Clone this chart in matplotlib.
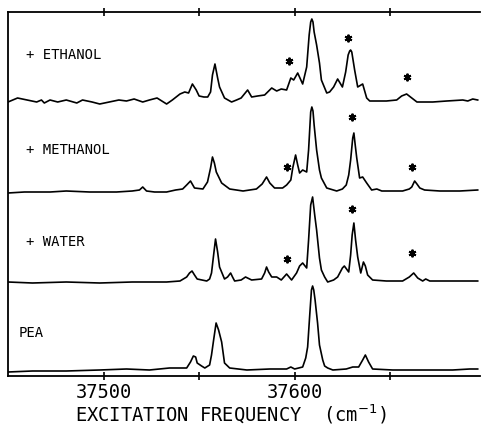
"""
Excitation spectra of PEA and its clusters with water, methanol, ethanol.
Traces digitised from the reference figure (intensity in arbitrary units).
"""

import matplotlib.pyplot as plt

plt.rcParams.update({
    "font.family": "DejaVu Sans Mono",
    "font.size": 10,
})

# ---------- data: frequency (cm-1) and intensity (arb. units) ----------
ethanol_freq = [37450, 37455, 37460, 37465, 37467.5, 37469, 37472, 37476, 37480.5, 37486,
                37489, 37494, 37498, 37503, 37508, 37512, 37516, 37520.5, 37524, 37528,
                37533, 37536, 37540, 37542.5, 37544.5, 37546.5, 37548.5, 37550, 37552.5, 37554.5,
                37556, 37557, 37558.3, 37559.7, 37560.7, 37563.3, 37567, 37569.6, 37572, 37575.4,
                37577.5, 37580.6, 37584.3, 37588, 37590.6, 37593, 37595.8, 37598, 37599.5, 37601.6,
                37604.2, 37606.3, 37607.6, 37608.4, 37609, 37609.6, 37610.2, 37611.5, 37613, 37614,
                37616.8, 37618.3, 37620.4, 37622.5, 37625, 37626.7, 37628, 37628.8, 37629.3, 37629.9,
                37630.4, 37631.4, 37633, 37635.6, 37637.7, 37639.3, 37648, 37653.4, 37656, 37658.6,
                37661.3, 37664, 37672.3, 37679.6, 37688, 37690.6, 37693.2, 37695.8]
ethanol_int = [-1, 3, 1, -1, 1, -2, 1, -1, 1, -2,
               1, -1, -3, -1, 1, 0, 2, -1, 1, 3,
               -3, 1, 7, 9, 8, 17, 11, 5, 4, 4,
               9, 26, 37, 23, 14, 3, -1, 1, 3, 11,
               4, 5, 6, 13, 10, 12, 11, 23, 21, 28,
               17, 34, 66, 79, 82, 79, 69, 56, 38, 21,
               8, 9, 14, 22, 14, 29, 46, 50, 51, 49,
               43, 31, 14, 17, 3, 0, 0, 1, 5, 7,
               3, -1, -1, 0, 1, 0, 2, 1]

methanol_freq = [37450, 37458.6, 37472, 37480.5, 37492.7, 37506.8, 37515, 37518.8, 37520.5, 37522.5,
                 37526.7, 37533, 37537.7, 37541.4, 37543.5, 37545.5, 37547.6, 37552, 37554.4, 37556,
                 37557, 37558, 37559, 37561.8, 37566, 37573, 37580, 37583, 37585.3, 37587,
                 37589.5, 37593.7, 37595.8, 37598, 37599, 37600.5, 37601.6, 37602.6, 37604.2, 37606.3,
                 37607.3, 37608.4, 37609, 37609.6, 37610.2, 37611.5, 37613, 37614, 37616.8, 37622,
                 37625, 37627, 37628.3, 37629.3, 37630.4, 37631, 37631.7, 37632.5, 37634, 37635.6,
                 37637.7, 37640.3, 37643, 37645.6, 37656.5, 37660, 37661.3, 37662.8, 37664, 37665.5,
                 37668, 37676, 37686.4, 37695.8]
methanol_int = [-1, 0, 0, 1, 0, 0, 1, 2, 5, 1,
                0, 0, 2, 3, 7, 11, 4, 3, 10, 24,
                35, 29, 20, 9, 3, 1, 3, 8, 15, 9,
                4, 4, 7, 12, 24, 37, 27, 19, 22, 20,
                42, 80, 85, 81, 67, 42, 22, 14, 4, 1,
                3, 7, 17, 32, 54, 59, 47, 34, 14, 15,
                9, 2, 3, 1, 1, 3, 5, 11, 8, 4,
                2, 1, 1, 2]

water_freq = [37450, 37462.8, 37480.5, 37498, 37515, 37533, 37540, 37543.5, 37545, 37546.3,
              37547.6, 37549, 37554, 37555.5, 37556.5, 37557.6, 37558.6, 37559.7, 37560.7, 37563.3,
              37564.9, 37566.5, 37567.5, 37568.6, 37572, 37574.3, 37577.5, 37582.7, 37584.3, 37585.3,
              37586.4, 37588, 37590.6, 37593, 37595.8, 37598.4, 37601, 37602.6, 37604.2, 37606.3,
              37607.3, 37608.4, 37609.4, 37610.5, 37611.5, 37613, 37614, 37615.7, 37617.3, 37620.4,
              37622.5, 37625, 37626, 37628.3, 37629.3, 37630.1, 37631, 37631.9, 37633, 37634.6,
              37636, 37637, 37638.2, 37640.8, 37648, 37656.5, 37660, 37662.3, 37664.4, 37667,
              37668.6, 37670.7, 37682.7, 37695.8]
water_int = [0, -1, 0, -1, 0, 0, 1, 5, 9, 11,
             7, 3, 1, 3, 9, 27, 43, 30, 15, 3,
             5, 9, 5, 1, 2, 5, 2, 3, 9, 15,
             10, 5, 5, 2, 8, 2, 9, 16, 19, 14,
             42, 77, 85, 67, 52, 24, 12, 5, 0, 2,
             5, 14, 16, 10, 27, 47, 59, 42, 25, 9,
             20, 16, 7, 2, 1, 1, 5, 9, 4, 1,
             3, 1, 1, 1]

pea_freq = [37450, 37462.8, 37480.5, 37498, 37512, 37524, 37534.5, 37543.5, 37545.5, 37547,
            37548.2, 37549, 37551.3, 37553, 37555.5, 37556.5, 37557.6, 37558.9, 37560.2, 37561.8,
            37563.3, 37566, 37575, 37587, 37595.8, 37598, 37600, 37604.2, 37605.8, 37606.8,
            37607.9, 37608.8, 37609.4, 37610, 37610.7, 37612, 37613, 37614.7, 37615.7, 37617.3,
            37620, 37627, 37630.4, 37633.5, 37635.6, 37637, 37638.7, 37640.8, 37651.3, 37665.5,
            37682.7, 37691.6, 37695.8]
pea_int = [-1, 0, 0, 1, 2, 1, 3, 3, 9, 15,
           14, 8, 5, 3, 6, 16, 31, 48, 41, 29,
           8, 3, 1, 2, 2, 4, 2, 4, 13, 24,
           56, 81, 85, 81, 71, 48, 26, 11, 5, 3,
           1, 2, 4, 4, 11, 16, 9, 2, 1, 1,
           1, 2, 2]

# asterisk-marked cluster bands
ethanol_star_freq = [37596.9, 37627.8, 37658.6]
ethanol_star_int = [40, 63, 24]
methanol_star_freq = [37595.8, 37629.8, 37661.3]
methanol_star_int = [25, 75, 25]
water_star_freq = [37595.8, 37629.8, 37661.3]
water_star_int = [23, 73, 29]

labels = ['+ ETHANOL', '+ METHANOL', '+ WATER', 'PEA']
xticks = [37500, 37550, 37600, 37650]
xtick_labels = ['37500', '', '37600', '']

# vertical offsets of the stacked traces
offsets = {'ethanol': 275, 'methanol': 184, 'water': 94, 'pea': 5}

fig = plt.figure(figsize=(4.85, 4.28), dpi=100)
ax = fig.add_axes([8 / 485, 52 / 428, 472 / 485, 364 / 428])

traces = [
    (ethanol_freq, ethanol_int, offsets['ethanol']),
    (methanol_freq, methanol_int, offsets['methanol']),
    (water_freq, water_int, offsets['water']),
    (pea_freq, pea_int, offsets['pea']),
]
for freq, inten, off in traces:
    ax.plot(freq, [v + off for v in inten], color='black', linewidth=1.2,
            solid_joinstyle='round')

stars = [
    (ethanol_star_freq, ethanol_star_int, offsets['ethanol']),
    (methanol_star_freq, methanol_star_int, offsets['methanol']),
    (water_star_freq, water_star_int, offsets['water']),
]
for freq, inten, off in stars:
    ax.plot(freq, [v + off for v in inten], linestyle='none', marker=(6, 2, 0),
            markersize=5.5, markeredgewidth=1.4, color='black')

# trace labels
label_pos = [(0.038, 0.882), (0.038, 0.621), (0.038, 0.368), (0.023, 0.118)]
for text, (lx, ly) in zip(labels, label_pos):
    ax.text(lx, ly, text, transform=ax.transAxes, fontsize=10, va='center', ha='left')

# ---------- Formatting ----------
ax.set_xlim(37450, 37697)
ax.set_ylim(0, 364)
ax.set_yticks([])
ax.set_xticks(xticks)
ax.set_xticklabels(xtick_labels, fontsize=13.5)
ax.tick_params(axis='x', which='both', direction='inout', length=6, width=1.2,
               top=True, bottom=True, pad=2)
ax.spines['right'].set_visible(False)
for side in ['left', 'top', 'bottom']:
    ax.spines[side].set_linewidth(1.3)

ax.set_xlabel('EXCITATION FREQUENCY  (cm$^{-1}$)', fontsize=13.5, va='center')
ax.xaxis.set_label_coords(0.472, -0.104)

plt.savefig('out.png', dpi=100)
